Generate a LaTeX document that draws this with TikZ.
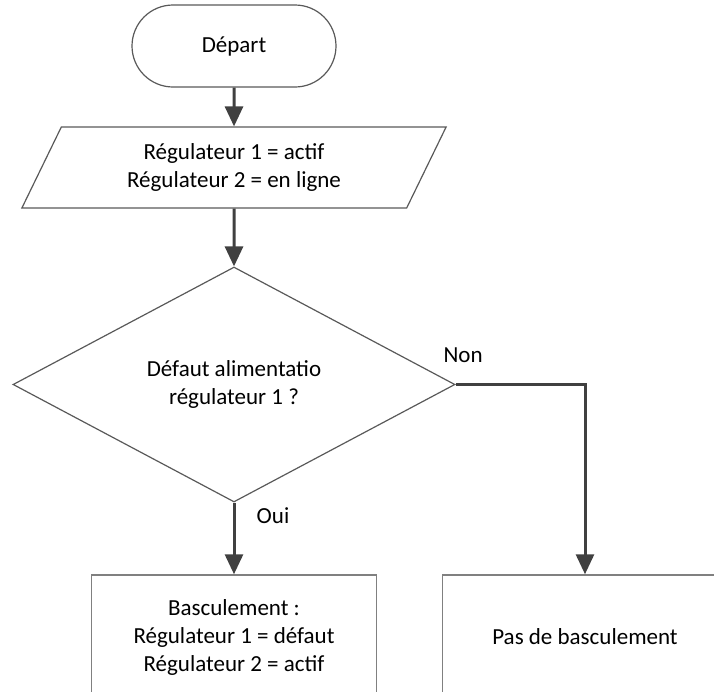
\documentclass[tikz,border=0pt]{standalone}
\usepackage{fontspec}
\setmainfont{Carlito}
\usetikzlibrary{shapes.geometric,arrows.meta}

\tikzset{
 bloc/.style={draw=black!65,line width=0.6pt,align=center,inner sep=0pt},
 fleche/.style={draw=black!75,line width=1.5pt,-{Triangle[length=10pt,width=9pt]}},
 lbl/.style={inner sep=0pt}
}

\begin{document}
\begin{tikzpicture}[x=0.5pt,y=-0.5pt,font=\fontsize{11.5}{14}\selectfont]
 \clip (0,0) rectangle (714,692);
 \node[bloc,rounded corners=20.5pt,minimum width=102pt,minimum height=41pt] (depart) at (234,46) {Départ};
 \node[bloc,trapezium,trapezium left angle=63,trapezium right angle=117,trapezium stretches=true,minimum width=212.5pt,minimum height=40.5pt] (donnees) at (234,167.5) {Régulateur 1 = actif\\Régulateur 2 = en ligne};
 \node[bloc,diamond,minimum width=221pt,minimum height=117.5pt] (test) at (234,384.5) {Défaut alimentatio\\régulateur 1 ?};
 \node[bloc,draw=black!50,line width=0.75pt,minimum width=142.5pt,minimum height=62pt] (bascule) at (234,637) {Basculement :\\Régulateur 1 = défaut\\Régulateur 2 = actif};
 \node[bloc,draw=black!50,line width=0.75pt,minimum width=142.5pt,minimum height=62pt] (pasbascule) at (585,637) {Pas de basculement};
 % liaisons
 \draw[fleche] (depart.south) -- (donnees.north);
 \draw[fleche] (donnees.south) -- (test.north);
 \draw[fleche] (test.south) -- node[lbl,pos=0,xshift=19.5pt,yshift=-6.5pt] {Oui} (bascule.north);
 \draw[fleche] (test.east) -| node[lbl,pos=0,xshift=3.75pt,yshift=14.5pt] {Non} (pasbascule.north);
\end{tikzpicture}
\end{document}
